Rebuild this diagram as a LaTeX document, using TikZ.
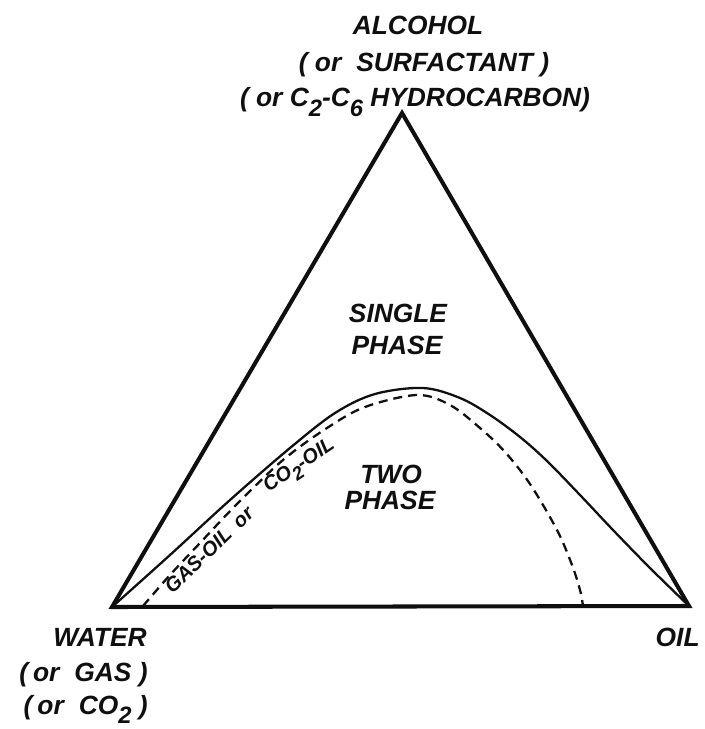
\documentclass[tikz,border=0pt]{standalone}
\usepackage{fontspec}
\setmainfont{Liberation Sans}
\usetikzlibrary{positioning}
\definecolor{pdInk}{RGB}{15,15,15}
\newcommand{\lowdig}[1]{\raisebox{-0.36em}{\fontsize{13.5}{14}\selectfont #1}}
\newcommand{\lowtag}[1]{\raisebox{-0.33em}{\fontsize{10.5}{11}\selectfont #1}}
\tikzset{
    base/.style={font=\fontsize{15}{18}\selectfont\bfseries\itshape, text=pdInk, inner sep=0pt},
    corner/.style={base, anchor=base},
    region/.style={base, anchor=base},
    curvetag/.style={font=\fontsize{11.5}{13}\selectfont\bfseries\itshape, text=pdInk, inner sep=0pt},
    side/.style={draw=pdInk, line width=2.3pt, line join=miter},
    binodal/.style={draw=pdInk, line width=1.3pt, line join=round},
    tieline/.style={binodal, dash pattern=on 0.18cm off 0.12cm}
}
\begin{document}
\begin{tikzpicture}[x=0.02cm, y=-0.02cm]
  \useasboundingbox (0,0) rectangle (705,729);
  % vertices of the ternary diagram
  \coordinate (A) at (402,113);
  \coordinate (W) at (112,607);
  \coordinate (O) at (689,606);
  \draw[side] (W) -- (O) -- (A) -- cycle;

  % binodal curves
  \coordinate (peak) at (423,388);
  \coordinate (dpeak) at (417,395);
  \coordinate (dfoot) at (583,606);
  \coordinate (dstart) at (143,606);
  \draw[binodal] plot[smooth, tension=0.55] coordinates {(W) (170,555) (230,500) (290,448)
    (335,413) (375,394) (peak) (460,398) (490,415) (520,437) (547,461) (580,495)
    (613,530) (650,568) (O)};
  \draw[tieline] plot[smooth, tension=0.55] coordinates {(dstart) (170,575) (200,543)
    (237,504) (283,460) (327,428) (365,407) (dpeak) (450,405) (480,428) (505,452)
    (530,484) (557,530) (572,565) (580,590) (dfoot)};

  % labels of the corners
  \node[corner] (alcohol) at (418,35) {ALCOHOL};
  \node[corner] (surf) at (424,72) {( or\hspace{0.3cm}SURFACTANT )};
  \node[corner] (hydro) at (415,107) {( or C\lowdig{2}-C\lowdig{6} HYDROCARBON)};
  \node[corner, anchor=base east] (water) at (147,646) {WATER};
  \node[corner, anchor=base east] (gas) at (148,681) {(\hspace{0.1cm}or\hspace{0.3cm}GAS )};
  \node[corner, anchor=base east] (co2) at (148,714) {(\hspace{0.1cm}or\hspace{0.3cm}CO\lowdig{2} )};
  \node[corner, anchor=base east] (oil) at (700,646) {OIL};

  % labels of the regions
  \node[region] (single) at (398,322) {SINGLE};
  \node[region] (phase1) at (397,354) {PHASE};
  \node[region] (two) at (391,483) {TWO};
  \node[region] (phase2) at (390,509) {PHASE};

  % label along the dashed curve
  \node[curvetag, rotate=44] (gasoil) at (209,550) {GAS-OIL\hspace{0.2cm}or};
  \node[curvetag, rotate=34] (co2oil) at (300,467) {CO\lowtag{2}-OIL};
\end{tikzpicture}
\end{document}
